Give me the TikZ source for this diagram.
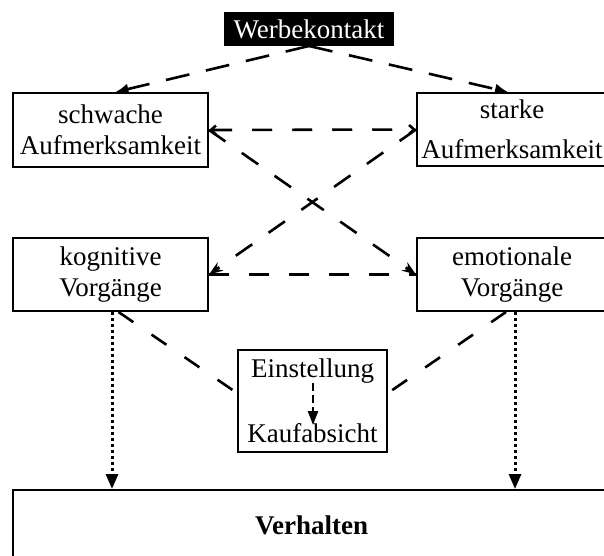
\documentclass[tikz,border=0pt]{standalone}
\usepackage{fontspec}
\setmainfont{Liberation Serif}
\usetikzlibrary{arrows.meta}
\begin{document}
\begin{tikzpicture}[x=1pt,y=-1pt,
  box/.style={draw, line width=2pt, rectangle, inner sep=0pt, align=center,
    font=\fontsize{27}{31}\selectfont},
  dsh/.style={line width=2.6pt, dash pattern=on 20pt off 20pt},
  dshw/.style={line width=2.6pt, dash pattern=on 24pt off 17pt},
  dshe/.style={line width=2.6pt, dash pattern=on 18pt off 22pt},
  dotl/.style={line width=3pt, dash pattern=on 3pt off 3pt},
  bigtip/.style={-{Latex[length=13pt,width=11pt]}},
  midtip/.style={-{Stealth[length=14pt,width=10pt]}},
  tritip/.style={-{Triangle[length=15pt,width=12pt]}}]
\path[use as bounding box] (0,0) rectangle (604,555);
\clip (0,0) rectangle (604,555);

\node[box, fill=black, text=white, minimum width=168pt, minimum height=32pt] (werbe) at (309,29) {Werbekontakt};
\node[box, minimum width=195pt, minimum height=74pt] (schwache) at (110.5,130) {schwache\\Aufmerksamkeit};
\node[box, minimum width=190pt, minimum height=73pt] (starke) at (512,129.5) {starke\\[9pt]Aufmerksamkeit};
\node[box, minimum width=195pt, minimum height=73pt] (kognitive) at (110.5,274.5) {kognitive\\Vorgänge};
\node[box, minimum width=190pt, minimum height=73pt] (emotionale) at (512,274.5) {emotionale\\Vorgänge};
\node[box, minimum width=149pt, minimum height=102pt] (einst) at (312.5,401) {Einstellung\\[34pt]Kaufabsicht};
\node[box, minimum width=597pt, minimum height=70pt, font=\bfseries\fontsize{27}{31}\selectfont] (verh) at (311.5,525) {Verhalten};

\draw[dshw, bigtip] (werbe.south) -- ([xshift=5pt]schwache.north);
\draw[dshw, bigtip] (werbe.south) -- ([xshift=-4pt]starke.north);
\draw[dsh, {Straight Barb[length=5pt,width=9pt]}-{Straight Barb[length=5pt,width=9pt]}] (schwache.east) -- (starke.west);
\draw[dsh, midtip] (schwache.east) -- (emotionale.west);
\draw[dsh, midtip] (starke.west) -- (kognitive.east);
\draw[dsh] (kognitive.east) -- (emotionale.west);
\draw[dshe] ([xshift=8pt]kognitive.south) -- ([yshift=8pt]einst.west);
\draw[dshe] ([xshift=-6pt]emotionale.south) -- ([yshift=8pt]einst.east);
\draw[dotl, tritip] ([xshift=1.5pt]kognitive.south) -- ([xshift=1.5pt]kognitive.south |- verh.north);
\draw[dotl, tritip] ([xshift=3pt]emotionale.south) -- ([xshift=3pt]emotionale.south |- verh.north);
\coordinate (e1) at (313,383);
\coordinate (k1) at (313,425);
\draw[line width=2.6pt, dash pattern=on 8pt off 4pt, -{Triangle[length=14pt,width=10pt]}] (e1) -- (k1);
\end{tikzpicture}
\end{document}
